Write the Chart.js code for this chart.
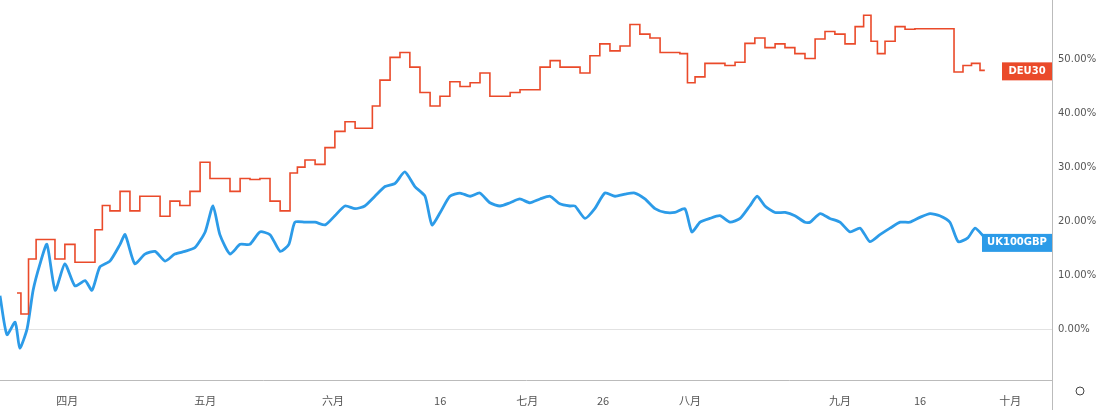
<!DOCTYPE html>
<html><head><meta charset="utf-8">
<script src="https://cdn.jsdelivr.net/npm/chart.js@4"></script>
<style>html,body{margin:0;padding:0;background:#fff}#w{width:1108px;height:410px}</style>
</head><body><div id="w"><canvas id="c"></canvas></div>
<script>
const tickDays = [14.6, 44.6, 72.4, 95.7, 114.6, 131.1, 150, 182.6, 200, 219.6];
const tickLabels = ['四月','五月','六月','16','七月','26','八月','九月','16','十月'];
const yTicks = [0,10,20,30,40,50];
const deuName = 'DEU30';
const ukName = 'UK100GBP';
const deuDays = [3.7,5.4,7,8.7,10.9,13,15.2,17.4,19.6,21.7,22.8,25,27.2,29.3,31.5,33.7,35.9,38,40.2,42.4,44.6,46.7,48.9,51.1,53.3,55.4,57.6,59.8,62,64.1,65.2,67.4,69.6,71.7,73.9,76.1,78.3,80.4,81.5,83.7,85.9,88,90.2,92.4,94.6,96.7,98.9,101.1,103.3,105.4,107.6,109.8,112,114.1,116.3,118.5,120.7,122.8,125,127.2,129.3,131.5,133.7,135.9,138,140.2,142.4,144.6,146.7,148.9,150,152.2,154.3,156.5,158.7,160.9,163,165.2,167.4,169.6,171.7,173.9,176.1,178.3,180.4,182.6,184.8,187,188.5,190.2,191.3,193.5,195.7,197.8,200,202.2,204.3,206.5,208.3,210.4,212,214.1];
const deuVals = [6.8,2.9,13.1,16.7,16.7,13.1,15.8,12.5,12.5,18.5,23,22,25.6,22,24.7,24.7,21,23.8,23,25.6,31,28,28,25.6,28,27.8,28,23.8,22,29,30.1,31.4,30.6,33.7,36.7,38.5,37.3,37.3,41.4,46.2,50.4,51.3,48.6,43.9,41.4,43.2,45.9,45,45.7,47.5,43.2,43.2,43.9,44.4,44.4,48.6,49.8,48.6,48.6,47.5,50.7,52.9,51.6,52.5,56.5,54.7,54,51.3,51.3,51.1,45.7,46.8,49.3,49.3,48.9,49.5,53,54,52.2,52.9,52.2,51.1,50.2,53.8,55.2,54.7,52.9,56.1,58.2,53.4,51.1,53.4,56.1,55.6,55.7,55.7,55.7,55.7,47.7,48.9,49.3,48];
const ukDays = [0,1.5,3.3,4.3,5.9,7.2,8.7,10.2,12,14.1,16.3,18.5,20,21.7,23.9,26.1,27.2,29.3,31.5,33.7,35.9,38,40.2,42.4,44.6,46.3,47.8,50,52.2,54.3,56.5,58.7,60.9,62.8,64.1,66.3,68.5,70.7,72.8,75,77.2,79.3,81.5,83.7,85.9,88,90.2,92.4,93.9,95.7,97.8,100,102.2,104.3,106.5,108.7,110.9,113,115.2,117.4,119.6,121.7,123.9,125,127.2,129.3,131.5,133.7,135.9,138,140.2,142.4,144.6,146.7,148.9,150.4,152.2,154.3,156.5,158.7,160.9,163,164.6,166.3,168.5,170.7,172.8,175,176.1,178.3,180.4,182.6,184.8,187,189.1,191.3,193.5,195.7,197.8,200,202.2,204.3,206.5,208.3,210.4,212,214.1];
const ukVals = [6.3,-0.9,1.4,-3.4,0.2,7.3,12.2,15.8,7.3,12.2,8.1,9.1,7.3,11.6,12.7,15.8,17.6,12.2,14,14.5,12.7,14,14.5,15.2,18.1,22.9,17.6,14,15.8,15.8,18.1,17.6,14.5,15.8,19.9,19.9,19.9,19.4,21.1,22.9,22.4,22.9,24.7,26.5,27.1,29.2,26.5,24.7,19.4,21.7,24.7,25.3,24.7,25.3,23.5,22.9,23.5,24.2,23.5,24.2,24.7,23.3,22.9,22.9,20.6,22.4,25.3,24.7,25.1,25.3,24.2,22.4,21.7,21.7,22.4,18.1,19.9,20.6,21.1,19.9,20.6,22.9,24.7,22.9,21.7,21.7,21.1,19.9,19.9,21.5,20.6,19.9,18.1,18.8,16.3,17.6,18.8,19.9,19.9,20.8,21.5,21.1,19.9,16.3,17,18.8,17];

const RED = '#ea4a2a', BLUE = '#2c9be8';
const toXY = (d, v) => d.map((x, i) => ({x, y: v[i]}));

const tagPlugin = {
  id: 'tags',
  afterDraw(chart) {
    const ctx = chart.ctx, ya = chart.scales.y, ca = chart.chartArea;
    const tags = [[deuVals, deuName, RED, 50, 1], [ukVals, ukName, BLUE, 70, 5]];
    ctx.save();
    ctx.font = 'bold 10px "DejaVu Sans"';
    tags.forEach(([vals, name, col, w, off]) => {
      const y = ya.getPixelForValue(vals[vals.length - 1]) + off;
      ctx.fillStyle = col;
      ctx.fillRect(ca.right - w, y - 9, w, 18);
      ctx.fillStyle = '#fff';
      ctx.textAlign = 'center'; ctx.textBaseline = 'middle';
      ctx.fillText(name, ca.right - w / 2, y);
    });
    ctx.strokeStyle = '#bbb'; ctx.lineWidth = 1;
    ctx.beginPath(); ctx.moveTo(ca.right + 0.5, 0); ctx.lineTo(ca.right + 0.5, 410); ctx.stroke();
    ctx.beginPath(); ctx.arc(ca.right + 28, 391, 4, 0, Math.PI * 2); ctx.strokeStyle = '#444'; ctx.stroke();
    ctx.restore();
  }
};

new Chart(document.getElementById('c'), {
  type: 'line',
  data: { datasets: [
    { data: toXY(deuDays, deuVals), borderColor: RED, borderWidth: 1.6, pointRadius: 0, stepped: 'middle' },
    { data: toXY(ukDays, ukVals), borderColor: BLUE, borderWidth: 2.8, pointRadius: 0, tension: 0.2 }
  ]},
  options: {
    responsive: true, maintainAspectRatio: false, animation: false,
    layout: { padding: 0 },
    plugins: { legend: { display: false }, tooltip: { enabled: false } },
    scales: {
      x: {
        type: 'linear', min: 0, max: 228.7,
        afterBuildTicks: s => { s.ticks = tickDays.map(v => ({value: v})); },
        afterFit: s => { s.height = 30; },
        ticks: { autoSkip: false, maxRotation: 0, color: '#555', font: { size: 11, family: 'Noto Sans CJK SC' }, padding: 6,
                 callback: (v, i) => tickLabels[i] },
        grid: { display: false },
        border: { color: '#bbb' }
      },
      y: {
        position: 'right', min: -9.3, max: 58.8,
        afterBuildTicks: s => { s.ticks = yTicks.map(v => ({value: v})); },
        afterFit: s => { s.width = 56; },
        ticks: { color: '#555', font: { size: 10, family: 'DejaVu Sans' }, padding: 6,
                 callback: v => v.toFixed(2) + '%' },
        grid: { drawTicks: false, color: c => c.tick && c.tick.value === 0 ? '#e2e2e2' : 'rgba(0,0,0,0)' },
        border: { display: false }
      }
    }
  },
  plugins: [tagPlugin]
});
</script></body></html>
